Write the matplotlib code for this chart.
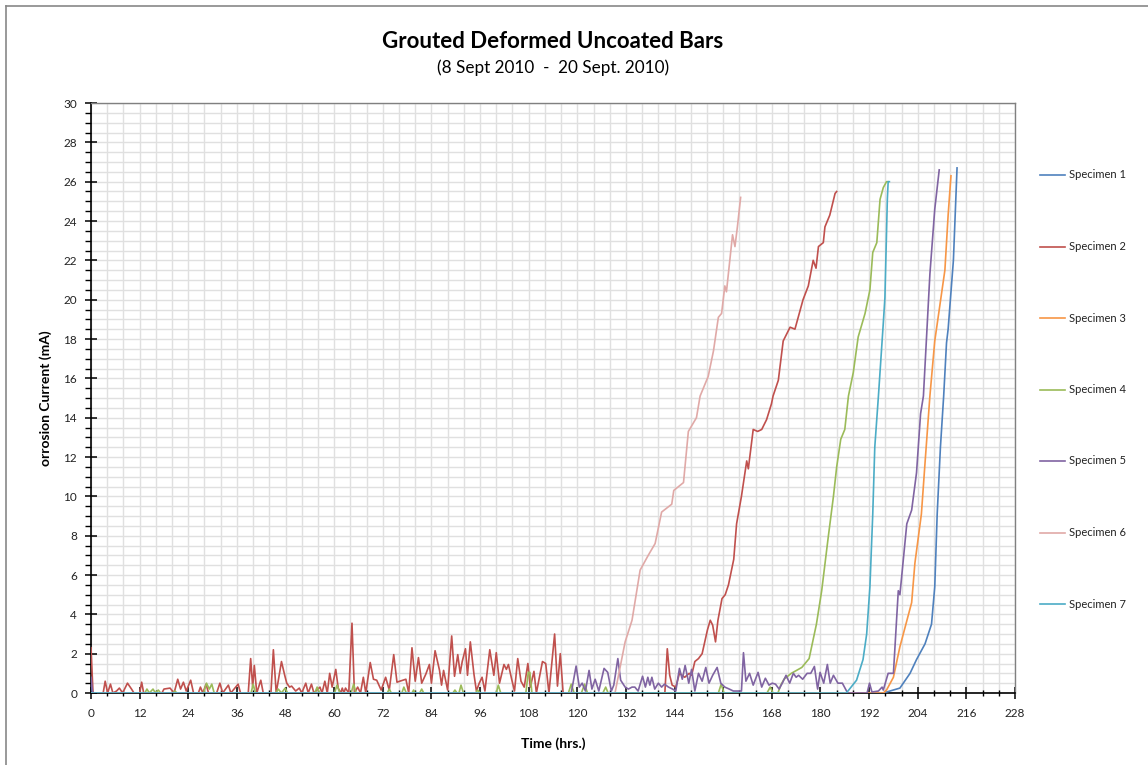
import matplotlib
matplotlib.use("Agg")
import matplotlib.pyplot as plt
from matplotlib.lines import Line2D
from matplotlib.ticker import MultipleLocator

plt.rcParams['font.family'] = ['Lato', 'DejaVu Sans']

# ---- data (time in hrs, current in mA) ----
spec1_t = [0, 0.3, 0.6, 195.5, 199.6, 202.1, 203.7, 205.8, 207.4, 208.2, 208.8,
           209.6, 210.4, 211.1, 211.5, 212.8, 213.7]
spec1_i = [0.75, 0.1, 0, 0, 0.25, 1.0, 1.7, 2.5, 3.5, 5.4, 9.1,
           12.5, 15.1, 17.8, 18.5, 22.0, 26.7]

spec2_t = [0, 0.5, 3.0, 3.5, 4.1, 4.8, 5.4, 6.3, 7.0, 7.8, 9.0, 10.0, 10.6, 12.0, 12.5,
           13.0, 17.5, 18.0, 19.5, 20.5, 21.4, 22.1, 22.8, 23.5, 24.6, 25.3, 26.5, 27.0,
           27.6, 28.4, 29.0, 31.0, 31.8, 32.5, 33.9, 34.5, 36.3, 36.9, 38.8, 39.4, 39.9,
           40.3, 40.9, 41.9, 42.5, 44.4, 45.0, 45.7, 47.0, 47.8, 48.3, 49.0, 49.5, 50.5,
           51.4, 52.0, 53.0, 53.6, 54.4, 55.0, 56.5, 57.0, 57.7, 58.3, 58.9, 59.5, 60.4,
           61.0, 61.6, 62.0, 62.4, 62.8, 63.6, 64.4, 65.0, 65.8, 66.5, 67.2, 67.8, 68.9,
           69.7, 70.5, 71.6, 72.7, 73.6, 74.7, 75.5, 76.2, 77.7, 78.4, 79.2, 80.0, 80.8,
           81.6, 82.6, 83.5, 84.0, 84.9, 86.0, 86.5, 87.0, 88.0, 89.0, 89.7, 90.5, 91.1,
           91.6, 92.4, 92.9, 93.6, 94.5, 95.1, 95.8, 96.5, 97.2, 98.4, 99.4, 100.0, 100.8,
           101.9, 102.5, 103.0, 103.8, 104.5, 105.3, 106.1, 106.9, 107.8, 108.4, 109.3,
           109.9, 111.4, 112.2, 113.0, 114.4, 115.1, 115.8, 116.5, 141.6, 142.2, 142.8,
           143.4, 144.3, 145.2, 146.5, 147.6, 148.2, 149.0, 149.9, 150.8, 152.1, 152.8,
           153.4, 154.1, 154.7, 155.7, 156.5, 157.3, 158.6, 159.3, 160.5, 161.8, 162.2,
           163.4, 164.5, 165.5, 166.7, 167.9, 168.3, 169.6, 170.8, 172.5, 173.7, 175.7,
           177.0, 178.2, 178.9, 179.5, 180.7, 181.1, 182.3, 183.6, 184.0]
spec2_i = [2.3, 0, 0, 0.6, 0, 0.45, 0, 0.1, 0.25, 0, 0.5, 0.2, 0, 0, 0.55,
           0, 0, 0.2, 0.25, 0, 0.7, 0.2, 0.55, 0.1, 0.65, 0, 0, 0.3,
           0, 0.45, 0, 0, 0.5, 0, 0.4, 0, 0.45, 0, 0, 1.75, 0.3,
           1.4, 0, 0.65, 0, 0, 2.2, 0, 1.6, 0.9, 0.5, 0.3, 0.35, 0.1,
           0.25, 0, 0.5, 0, 0.45, 0, 0.3, 0, 0.6, 0, 1.0, 0.3, 1.2,
           0.25, 0, 0.25, 0, 0.25, 0, 3.55, 0, 0.3, 0, 0.8, 0, 1.55,
           0.7, 0.65, 0.15, 0.8, 0.15, 1.95, 0.55, 0.6, 0.7, 0, 2.3, 0.6, 1.8,
           0.5, 0.95, 1.45, 0.5, 2.15, 1.15, 0.4, 1.15, 0.15, 2.9, 0.85, 1.95, 1.0,
           1.6, 2.25, 0.9, 2.6, 0.95, 0.1, 0.5, 0.8, 0.1, 2.2, 0.9, 2.05, 0.5,
           1.45, 1.2, 1.45, 0.7, 0.1, 1.75, 0.6, 0.3, 1.5, 0.3, 1.1,
           0, 1.6, 1.5, 0, 3.0, 0.35, 2.0, 0, 0, 2.25, 0.9,
           0.4, 0.3, 1.0, 0.8, 1.0, 0.9, 1.6, 1.75, 2.0, 3.2, 3.7,
           3.45, 2.6, 3.7, 4.8, 5.0, 5.5, 6.8, 8.6, 10.0, 11.8, 11.4,
           13.4, 13.3, 13.4, 13.9, 14.7, 15.1, 15.9, 17.9, 18.6, 18.5, 20.0,
           20.7, 22.0, 21.6, 22.7, 22.9, 23.7, 24.3, 25.4, 25.5]

spec3_t = [0, 195.5, 196.3, 198.0, 199.6, 202.5, 203.3, 204.9, 205.8, 207.0, 208.2, 210.7,
           211.5, 212.2]
spec3_i = [0, 0, 0.15, 0.8, 2.35, 4.6, 6.6, 9.1, 11.7, 15.1, 17.9, 21.5, 24.3, 26.3]

spec4_t = [0, 13.3, 13.8, 14.4, 15.3, 15.9, 16.6, 17.2, 20.2, 20.7, 21.2, 27.8, 28.5,
           29.2, 29.8, 30.4, 39.5, 40.0, 40.6, 45.6, 46.2, 47.0, 47.9, 48.5, 55.2, 55.8,
           56.4, 60.1, 60.7, 61.4, 64.2, 64.8, 65.4, 73.1, 73.6, 74.1, 76.7, 77.2, 77.8,
           79.2, 79.6, 80.0, 81.1, 81.6, 82.1, 89.3, 89.8, 90.3, 90.8, 91.3, 91.9, 94.9,
           95.4, 96.0, 100.0, 100.5, 101.1, 107.3, 107.9, 108.3, 108.8, 117.8, 118.5,
           119.2, 121.0, 121.8, 122.5, 126.3, 127.0, 127.6, 154.8, 155.5, 156.2, 166.8,
           167.6, 168.3, 169.5, 170.2, 171.0, 171.6, 172.8, 175.4, 177.2, 179.0, 180.3,
           181.9, 183.2, 184.0, 185.0, 186.0, 186.9, 188.1, 189.3, 191.0, 192.2, 192.9,
           193.9, 194.7, 195.5, 196.3, 196.6]
spec4_i = [0, 0, 0.2, 0, 0.2, 0, 0.15, 0, 0, 0.1, 0, 0, 0.5,
           0.2, 0.45, 0, 0, 0.45, 0, 0, 0.2, 0, 0.25, 0, 0, 0.3,
           0, 0, 0.4, 0, 0, 0.45, 0, 0, 0.2, 0, 0, 0.3, 0,
           0, 0.15, 0, 0, 0.2, 0, 0, 0.15, 0, 0, 0.4, 0, 0,
           0.15, 0, 0, 0.4, 0, 0, 1.05, 1.05, 0, 0, 0.45,
           0, 0, 0.45, 0, 0, 0.3, 0, 0, 0.45, 0, 0,
           0.3, 0, 0, 0.4, 0.7, 0.8, 1.0, 1.3, 1.75, 3.5, 5.2,
           7.9, 10.0, 11.5, 12.9, 13.4, 15.1, 16.3, 18.1, 19.3, 20.5, 22.4,
           22.9, 25.1, 25.7, 26.0, 26.0]

spec5_t = [0, 0.4, 118.5, 119.7, 120.5, 121.2, 122.0, 122.9, 123.6, 124.4, 125.3, 126.6,
           127.5, 128.4, 129.0, 130.0, 130.7, 131.8, 132.6, 133.5, 134.2, 135.0, 136.1,
           136.8, 137.4, 137.9, 138.4, 139.1, 140.0, 140.8, 141.5, 142.5, 143.5, 144.3,
           145.2, 145.9, 146.6, 147.5, 148.2, 149.0, 149.9, 150.8, 151.7, 152.5, 153.4,
           154.5, 155.4, 156.4, 157.5, 158.5, 160.5, 161.0, 161.6, 162.5, 163.4, 164.6,
           165.5, 166.4, 167.3, 168.1, 168.9, 169.8, 170.7, 171.5, 172.4, 173.3, 174.0,
           174.6, 175.6, 176.7, 177.6, 178.5, 179.3, 179.9, 180.8, 181.7, 182.4, 183.2,
           184.3, 185.4, 186.7, 191.5, 192.1, 192.7, 194.3, 195.2, 195.5, 196.7, 198.0,
           199.2, 199.6, 201.3, 202.5, 203.7, 204.7, 205.4, 207.0, 208.2, 209.3]
spec5_i = [0.8, 0, 0, 1.37, 0.3, 0.5, 0.1, 1.15, 0.2, 0.7, 0.1, 1.25,
           1.05, 0.1, 0.4, 1.75, 0.65, 0.3, 0.2, 0.3, 0.3, 0.1, 0.85,
           0.3, 0.8, 0.4, 0.8, 0.2, 0.5, 0.3, 0.45, 0.3, 0.2, 0.1,
           1.25, 0.7, 1.4, 0.5, 1.2, 0.1, 1.0, 0.6, 1.3, 0.5, 0.9,
           1.3, 0.5, 0.3, 0.2, 0.1, 0.1, 2.05, 0.6, 1.0, 0.4, 1.05,
           0.3, 0.75, 0.4, 0.5, 0.45, 0.2, 0.55, 0.9, 0.5, 1.0, 0.8,
           0.9, 0.7, 1.0, 1.0, 1.35, 0.2, 1.05, 0.5, 1.45, 0.5, 0.9,
           0.5, 0.5, 0, 0, 0.5, 0.05, 0.1, 0.3, 0.15, 1.0, 1.0,
           5.2, 5.0, 8.6, 9.3, 11.2, 14.2, 15.1, 21.3, 24.6, 26.6]

spec6_t = [0, 129.3, 131.8, 133.5, 135.5, 137.5, 139.2, 140.8, 143.3, 143.8, 146.2, 147.4,
           149.4, 150.3, 152.3, 153.6, 154.8, 155.6, 156.4, 156.8, 158.3, 158.9, 159.5, 160.3]
spec6_i = [0, 0, 2.6, 3.7, 6.25, 7.0, 7.6, 9.2, 9.6, 10.3, 10.7, 13.3,
           14.0, 15.1, 16.1, 17.4, 19.1, 19.3, 20.7, 20.4, 23.3, 22.7, 23.7, 25.2]

spec7_t = [0, 184.0, 186.4, 188.9, 190.5, 191.4, 192.2, 192.9, 193.4, 194.3, 195.5, 195.9,
           196.5, 196.7, 197.0]
spec7_i = [0, 0, 0, 0.65, 1.7, 3.0, 5.4, 9.1, 12.5, 15.1, 18.8, 20.1, 25.1, 26.0, 26.0]

labels = ['Specimen 1', 'Specimen 2', 'Specimen 3', 'Specimen 4',
          'Specimen 5', 'Specimen 6', 'Specimen 7']
colors = ['#4F81BD', '#C0504D', '#F79646', '#9BBB59', '#8064A2', '#E0A9A7', '#4BACC6']
series = [(spec1_t, spec1_i), (spec2_t, spec2_i), (spec3_t, spec3_i), (spec4_t, spec4_i),
          (spec5_t, spec5_i), (spec6_t, spec6_i), (spec7_t, spec7_i)]

W, H = 1148, 765
fig = plt.figure(figsize=(W / 100, H / 100), dpi=100)
ax = fig.add_axes([91 / W, 1 - 693 / H, (1015 - 91) / W, (693 - 103) / H])

# draw order: light ones underneath
order = [5, 6, 2, 0, 3, 4, 1]
for k in order:
    t, i = series[k]
    ax.plot(t, i, color=colors[k], lw=1.2, zorder=3 + k * 0.1, solid_joinstyle='round')

ax.set_xlim(0, 228)
ax.set_ylim(0, 30)
ax.xaxis.set_major_locator(MultipleLocator(12))
ax.xaxis.set_minor_locator(MultipleLocator(4))
ax.yaxis.set_major_locator(MultipleLocator(2))
ax.yaxis.set_minor_locator(MultipleLocator(0.5))
ax.grid(which='both', color='#E0E0E0', lw=1.0)
ax.set_axisbelow(True)

for s in ['top', 'right']:
    ax.spines[s].set_color('#808080')
    ax.spines[s].set_linewidth(1.0)
for s in ['left', 'bottom']:
    ax.spines[s].set_color('#000000')
    ax.spines[s].set_linewidth(1.2)

ax.tick_params(axis='both', which='major', direction='inout', length=8, width=1.1,
               labelsize=8.5, labelcolor='#222222', pad=6)
ax.tick_params(axis='y', which='minor', direction='out', length=4, width=1.0)
ax.tick_params(axis='x', which='minor', direction='inout', length=5, width=1.0)
ax.tick_params(axis='x', which='major', pad=7)

ax.set_xlabel('Time (hrs.)', fontsize=10, fontweight='bold', labelpad=13)
ax.set_ylabel('orrosion Current (mA)', fontsize=10, fontweight='bold', labelpad=8)

fig.text(553 / W, 1 - 42 / H, 'Grouted Deformed Uncoated Bars', ha='center', va='center',
         fontsize=16, fontweight='bold')
fig.text(553 / W, 1 - 68 / H, '(8 Sept 2010  -  20 Sept. 2010)', ha='center', va='center',
         fontsize=12.3)

# legend on the right
for k, lab in enumerate(labels):
    y = 1 - (175 + k * 71.5) / H
    fig.add_artist(Line2D([1040 / W, 1065 / W], [y, y], color=colors[k], lw=1.2))
    fig.text(1069 / W, y, lab, ha='left', va='center', fontsize=8, color='#222222')

# outer chart frame
fig.add_artist(Line2D([6 / W, 1], [1 - 6 / H, 1 - 6 / H], color='#888888', lw=1.2))
fig.add_artist(Line2D([6 / W, 6 / W], [0, 1 - 6 / H], color='#888888', lw=1.2))

fig.savefig('out.png', dpi=100)
